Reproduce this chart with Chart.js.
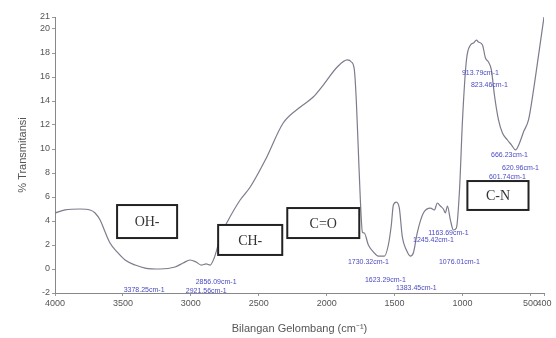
<!DOCTYPE html>
<html lang="en">
<head>
  <meta charset="UTF-8">
  <title>FTIR</title>
  <script src="https://cdn.jsdelivr.net/npm/chart.js"></script>
  <style>
    html, body { margin: 0; padding: 0; background: #fff; }
    #wrap { width: 556px; height: 338px; }
  </style>
</head>
<body>
  <div id="wrap"><canvas id="ftir"></canvas></div>

  <script>
    // spectrum
    const wavenumber = [4000, 3926, 3816, 3742, 3705, 3668, 3631, 3595, 3543, 3484, 3410, 3337, 3226, 3116,
      3057, 3005, 2961, 2924, 2887, 2858, 2828, 2799, 2769, 2732, 2637, 2563, 2452, 2320, 2194, 2099,
      2025, 1922, 1848, 1818, 1796, 1782, 1767, 1752, 1737, 1723, 1693, 1656, 1620, 1575, 1546, 1524,
      1509, 1487, 1465, 1443, 1413, 1384, 1362, 1332, 1288, 1236, 1207, 1185, 1163, 1141, 1126, 1111,
      1089, 1067, 1045, 1022, 1000, 971, 941, 919, 897, 883, 853, 831, 809, 787, 765, 735, 706, 669,
      639, 610, 580, 551, 514, 477, 440, 400];
    const transmittance = [4.67, 4.92, 5.0, 4.92, 4.67, 4.08, 3.08, 2.17, 1.42, 0.75, 0.33, 0.08, 0.0, 0.17,
      0.5, 0.75, 0.58, 0.33, 0.42, 0.33, 0.92, 2.0, 3.08, 3.92, 5.75, 6.83, 9.08, 12.17, 13.5, 14.33,
      15.33, 16.83, 17.42, 17.25, 16.58, 14.08, 9.92, 5.75, 3.08, 3.0, 2.0, 1.42, 1.08, 1.08, 2.0, 3.67,
      5.33, 5.58, 5.08, 2.67, 1.58, 1.08, 1.33, 3.08, 4.67, 5.08, 4.92, 5.5, 5.25, 5.0, 4.67, 5.25,
      4.08, 3.25, 3.42, 6.58, 12.42, 17.42, 18.67, 18.83, 19.08, 18.92, 18.67, 17.58, 17.25, 16.58, 14.5, 12.42, 11.33, 10.75,
      10.33, 9.92, 10.5, 11.42, 12.42, 14.92, 17.83, 21.0];

    const xTicks = [4000, 3500, 3000, 2500, 2000, 1500, 1000, 500, 400];
    const yTicks = [-2, 0, 2, 4, 6, 8, 10, 12, 14, 16, 18, 20, 21];

    // peak labels: text, wavenumber, %T where the label sits
    const peakText = ['3378.25cm-1', '2921.56cm-1', '2856.09cm-1', '1730.32cm-1', '1623.29cm-1', '1383.45cm-1',
      '1245.42cm-1', '1163.69cm-1', '1076.01cm-1', '913.79cm-1', '823.46cm-1', '666.23cm-1', '620.96cm-1', '601.74cm-1'];
    const peakX = [3344, 2887, 2814, 1693, 1568, 1340, 1214, 1104, 1023, 868, 802, 654, 573, 669];
    const peakY = [-1.75, -1.83, -1.08, 0.58, -0.92, -1.58, 2.42, 3.0, 0.58, 16.33, 15.33, 9.5, 8.42, 7.67];

    // functional group boxes
    const groupText = ['OH-', 'CH-', 'C=O', 'C-N'];
    const groupX1 = [3543, 2799, 2290, 964];
    const groupX2 = [3101, 2327, 1760, 514];
    const groupY1 = [5.33, 3.67, 5.08, 7.33];
    const groupY2 = [2.58, 1.17, 2.58, 4.92];

    const notes = {
      id: 'notes',
      afterDatasetsDraw(chart) {
        const { ctx, scales: { x, y } } = chart;
        ctx.save();
        ctx.fillStyle = '#4a4ac4';
        ctx.font = '7px "Liberation Sans", Arial, sans-serif';
        ctx.textAlign = 'center';
        ctx.textBaseline = 'middle';
        peakText.forEach((t, i) => ctx.fillText(t, x.getPixelForValue(peakX[i]), y.getPixelForValue(peakY[i])));

        groupText.forEach((t, i) => {
          const l = x.getPixelForValue(groupX1[i]), r = x.getPixelForValue(groupX2[i]);
          const top = y.getPixelForValue(groupY1[i]), b = y.getPixelForValue(groupY2[i]);
          ctx.fillStyle = '#fff';
          ctx.fillRect(l, top, r - l, b - top);
          ctx.strokeStyle = '#222';
          ctx.lineWidth = 2;
          ctx.strokeRect(l, top, r - l, b - top);
          ctx.fillStyle = '#333';
          ctx.font = '14px "Liberation Serif", "Times New Roman", serif';
          ctx.fillText(t, (l + r) / 2, (top + b) / 2 + 1);
        });
        ctx.restore();
      }
    };

    new Chart(document.getElementById('ftir'), {
      type: 'scatter',
      data: {
        datasets: [{
          data: wavenumber.map((w, i) => ({ x: w, y: transmittance[i] })),
          showLine: true,
          borderColor: '#7c7c8c',
          borderWidth: 1.2,
          pointRadius: 0,
          cubicInterpolationMode: 'monotone'
        }]
      },
      options: {
        responsive: true,
        maintainAspectRatio: false,
        animation: false,
        layout: { padding: { top: 17, right: 12, left: 0, bottom: 0 } },
        plugins: { legend: { display: false }, tooltip: { enabled: false } },
        scales: {
          x: {
            type: 'linear',
            reverse: true,
            min: 400,
            max: 4000,
            afterFit: s => { s.height = 45; },
            afterBuildTicks: s => { s.ticks = xTicks.map(v => ({ value: v })); },
            ticks: { autoSkip: false, maxRotation: 0, padding: 2, color: '#555',
              callback: v => String(v),
              font: { size: 9, family: '"Liberation Sans", Arial, sans-serif' } },
            grid: { drawOnChartArea: false, tickLength: 3, color: '#999' },
            border: { color: '#888', width: 1 },
            title: { display: true, text: 'Bilangan Gelombang (cm⁻¹)', color: '#555',
              font: { size: 11, family: '"Liberation Sans", Arial, sans-serif' }, padding: { top: 0, bottom: 2 } }
          },
          y: {
            min: -2,
            max: 21,
            afterFit: s => { s.width = 55; },
            afterBuildTicks: s => { s.ticks = yTicks.map(v => ({ value: v })); },
            ticks: { autoSkip: false, padding: 2, color: '#555',
              font: { size: 9, family: '"Liberation Sans", Arial, sans-serif' } },
            grid: { drawOnChartArea: false, tickLength: 3, color: '#999' },
            border: { color: '#888', width: 1 },
            title: { display: true, text: '% Transmitansi', color: '#555',
              font: { size: 11, family: '"Liberation Sans", Arial, sans-serif' }, padding: { top: 16, bottom: 0 } }
          }
        }
      },
      plugins: [notes]
    });
  </script>
</body>
</html>
